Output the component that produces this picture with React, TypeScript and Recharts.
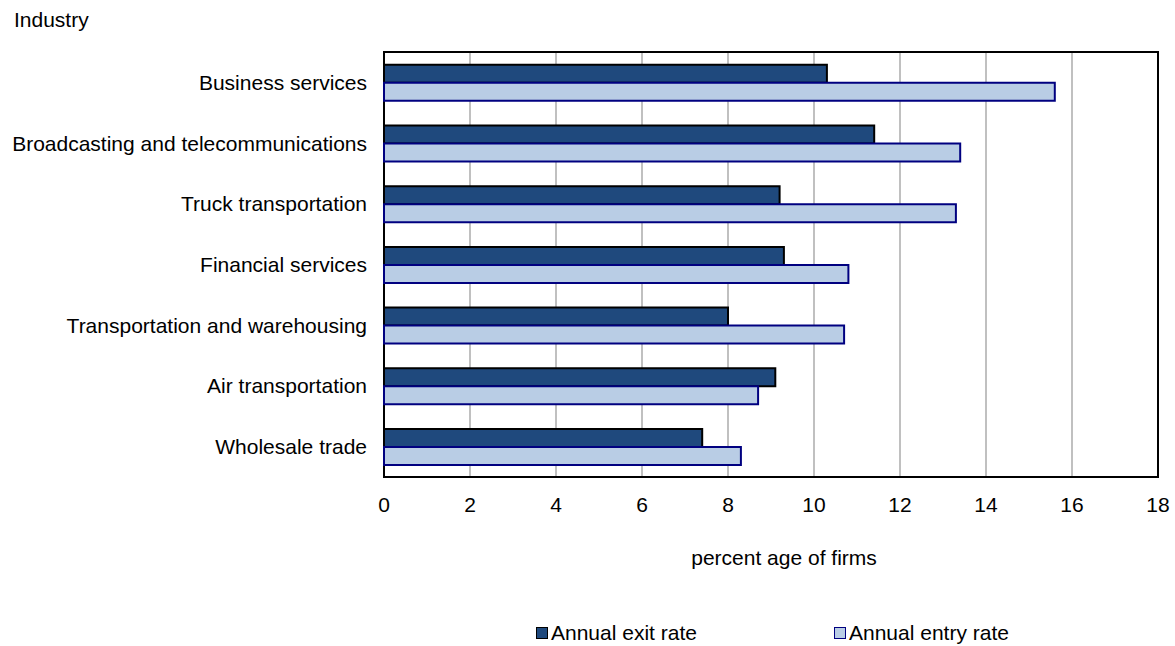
import { BarChart, Bar, XAxis, YAxis, CartesianGrid, ReferenceArea } from 'recharts';

const industries = [
  'Business services',
  'Broadcasting and telecommunications',
  'Truck transportation',
  'Financial services',
  'Transportation and warehousing',
  'Air transportation',
  'Wholesale trade',
];
const exitRate = [10.3, 11.4, 9.2, 9.3, 8.0, 9.1, 7.4];
const entryRate = [15.6, 13.4, 13.3, 10.8, 10.7, 8.7, 8.3];
const xTicks = [0, 2, 4, 6, 8, 10, 12, 14, 16, 18];

const font = '"Liberation Sans", Arial, sans-serif';
const exitFill = '#1f497d';
const entryFill = '#b9cde5';

const data = industries.map((name, i) => ({ name, exit: exitRate[i], entry: entryRate[i] }));

function LegendItem({ fill, stroke, label, left }: { fill: string; stroke: string; label: string; left: number }) {
  return (
    <div style={{ position: 'absolute', left, top: 621, display: 'flex', alignItems: 'center' }}>
      <span style={{ width: 10, height: 10, background: fill, border: `1.5px solid ${stroke}`, marginRight: 3 }} />
      <span style={{ fontSize: 21 }}>{label}</span>
    </div>
  );
}

export default function App() {
  return (
    <div style={{ position: 'absolute', left: 0, top: 0, width: 1175, height: 646, fontFamily: font, background: '#fff' }}>
      <div style={{ position: 'absolute', left: 14, top: 8, fontSize: 21 }}>Industry</div>
      <BarChart
        width={1175}
        height={646}
        data={data}
        layout="vertical"
        margin={{ top: 52, right: 17, bottom: 79, left: 0 }}
        barCategoryGap="21%"
        barGap={0}
      >
        <CartesianGrid horizontal={false} stroke="#c0c0c0" strokeWidth={2} />
        <XAxis
          type="number"
          domain={[0, 18]}
          ticks={xTicks}
          interval={0}
          tickLine={false}
          tickSize={0}
          tickMargin={20}
          axisLine={false}
          height={90}
          tick={{ fill: '#000', fontSize: 21, fontFamily: font }}
          label={{ value: 'percent age of firms', position: 'insideBottom', offset: 2, dx: 13, fill: '#000', fontSize: 21, fontFamily: font }}
        />
        <YAxis
          type="category"
          dataKey="name"
          width={384}
          tickLine={false}
          tickSize={0}
          tickMargin={17}
          axisLine={false}
          interval={0}
          tick={{ fill: '#000', fontSize: 21, fontFamily: font }}
        />
        <Bar dataKey="exit" fill={exitFill} stroke="#000" strokeWidth={2} isAnimationActive={false} />
        <Bar dataKey="entry" fill={entryFill} stroke="#000080" strokeWidth={2} isAnimationActive={false} />
        <ReferenceArea x1={0} x2={18} fill="none" stroke="#000" strokeWidth={2} fillOpacity={0} />
      </BarChart>
      <LegendItem fill={exitFill} stroke="#000" label="Annual exit rate" left={536} />
      <LegendItem fill={entryFill} stroke="#000080" label="Annual entry rate" left={834} />
    </div>
  );
}
